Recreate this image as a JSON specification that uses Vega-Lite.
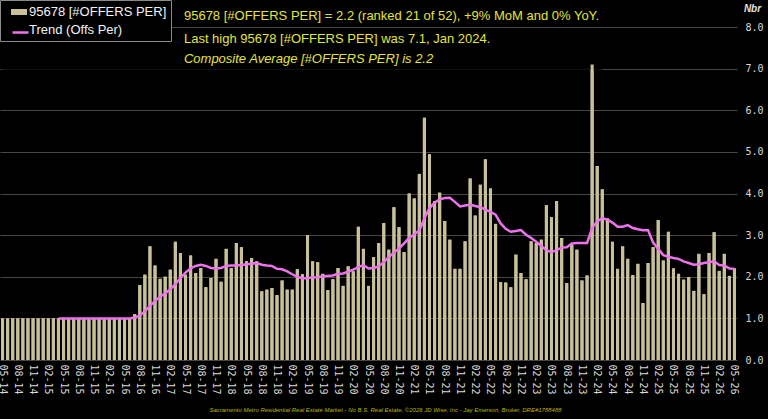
{
  "$schema": "https://vega.github.io/schema/vega-lite/v6.json",
  "width": 737,
  "height": 333,
  "autosize": {"type": "none"},
  "padding": {"left": 0, "top": 27, "right": 31, "bottom": 59},
  "background": "#000000",
  "config": {"view": {"stroke": null}, "font": "Liberation Sans"},
  "datasets": {
    "offers": [
      {"m": "05-14", "v": 1.0, "t": null}, {"m": "06-14", "v": 1.0, "t": null}, {"m": "07-14", "v": 1.0, "t": null},
      {"m": "08-14", "v": 1.0, "t": null}, {"m": "09-14", "v": 1.0, "t": null}, {"m": "10-14", "v": 1.0, "t": null},
      {"m": "11-14", "v": 1.0, "t": null}, {"m": "12-14", "v": 1.0, "t": null}, {"m": "01-15", "v": 1.0, "t": null},
      {"m": "02-15", "v": 1.0, "t": null}, {"m": "03-15", "v": 1.0, "t": null}, {"m": "04-15", "v": 1.0, "t": 1.0},
      {"m": "05-15", "v": 1.0, "t": 1.0}, {"m": "06-15", "v": 1.0, "t": 1.0}, {"m": "07-15", "v": 1.0, "t": 1.0},
      {"m": "08-15", "v": 1.0, "t": 1.0}, {"m": "09-15", "v": 1.0, "t": 1.0}, {"m": "10-15", "v": 1.0, "t": 1.0},
      {"m": "11-15", "v": 1.0, "t": 1.0}, {"m": "12-15", "v": 1.0, "t": 1.0}, {"m": "01-16", "v": 1.0, "t": 1.0},
      {"m": "02-16", "v": 1.0, "t": 1.0}, {"m": "03-16", "v": 1.0, "t": 1.0}, {"m": "04-16", "v": 1.0, "t": 1.0},
      {"m": "05-16", "v": 1.0, "t": 1.0}, {"m": "06-16", "v": 1.0, "t": 1.0}, {"m": "07-16", "v": 1.1, "t": 1.02},
      {"m": "08-16", "v": 1.8, "t": 1.07}, {"m": "09-16", "v": 2.05, "t": 1.17}, {"m": "10-16", "v": 2.73, "t": 1.3},
      {"m": "11-16", "v": 2.27, "t": 1.42}, {"m": "12-16", "v": 1.95, "t": 1.52}, {"m": "01-17", "v": 2.0, "t": 1.6},
      {"m": "02-17", "v": 2.17, "t": 1.7}, {"m": "03-17", "v": 2.84, "t": 1.82}, {"m": "04-17", "v": 2.57, "t": 1.97},
      {"m": "05-17", "v": 2.05, "t": 2.1}, {"m": "06-17", "v": 2.51, "t": 2.2}, {"m": "07-17", "v": 2.09, "t": 2.26},
      {"m": "08-17", "v": 2.21, "t": 2.29}, {"m": "09-17", "v": 1.75, "t": 2.26}, {"m": "10-17", "v": 1.97, "t": 2.21},
      {"m": "11-17", "v": 2.43, "t": 2.2}, {"m": "12-17", "v": 1.88, "t": 2.21}, {"m": "01-18", "v": 2.67, "t": 2.26},
      {"m": "02-18", "v": 2.21, "t": 2.27}, {"m": "03-18", "v": 2.81, "t": 2.27}, {"m": "04-18", "v": 2.71, "t": 2.28},
      {"m": "05-18", "v": 2.37, "t": 2.3}, {"m": "06-18", "v": 2.45, "t": 2.31}, {"m": "07-18", "v": 2.37, "t": 2.33},
      {"m": "08-18", "v": 1.65, "t": 2.29}, {"m": "09-18", "v": 1.69, "t": 2.27}, {"m": "10-18", "v": 1.73, "t": 2.26},
      {"m": "11-18", "v": 1.56, "t": 2.19}, {"m": "12-18", "v": 1.91, "t": 2.18}, {"m": "01-19", "v": 1.69, "t": 2.13},
      {"m": "02-19", "v": 1.69, "t": 2.06}, {"m": "03-19", "v": 2.18, "t": 2.0}, {"m": "04-19", "v": 2.06, "t": 1.96},
      {"m": "05-19", "v": 3.0, "t": 1.97}, {"m": "06-19", "v": 2.37, "t": 1.98}, {"m": "07-19", "v": 2.35, "t": 1.99},
      {"m": "08-19", "v": 2.07, "t": 2.01}, {"m": "09-19", "v": 1.68, "t": 2.02}, {"m": "10-19", "v": 1.94, "t": 2.03},
      {"m": "11-19", "v": 2.21, "t": 2.07}, {"m": "12-19", "v": 1.78, "t": 2.08}, {"m": "01-20", "v": 2.25, "t": 2.12},
      {"m": "02-20", "v": 2.13, "t": 2.17}, {"m": "03-20", "v": 3.2, "t": 2.23}, {"m": "04-20", "v": 2.67, "t": 2.28},
      {"m": "05-20", "v": 1.78, "t": 2.2}, {"m": "06-20", "v": 2.47, "t": 2.21}, {"m": "07-20", "v": 2.81, "t": 2.25},
      {"m": "08-20", "v": 3.29, "t": 2.35}, {"m": "09-20", "v": 2.65, "t": 2.47}, {"m": "10-20", "v": 3.67, "t": 2.58},
      {"m": "11-20", "v": 3.19, "t": 2.68}, {"m": "12-20", "v": 2.59, "t": 2.8}, {"m": "01-21", "v": 4.0, "t": 2.93},
      {"m": "02-21", "v": 3.88, "t": 3.02}, {"m": "03-21", "v": 4.47, "t": 3.11}, {"m": "04-21", "v": 5.82, "t": 3.4},
      {"m": "05-21", "v": 4.94, "t": 3.65}, {"m": "06-21", "v": 3.82, "t": 3.78}, {"m": "07-21", "v": 4.02, "t": 3.86},
      {"m": "08-21", "v": 3.34, "t": 3.89}, {"m": "09-21", "v": 2.89, "t": 3.9}, {"m": "10-21", "v": 2.19, "t": 3.8},
      {"m": "11-21", "v": 2.19, "t": 3.69}, {"m": "12-21", "v": 2.85, "t": 3.71}, {"m": "01-22", "v": 4.36, "t": 3.73},
      {"m": "02-22", "v": 3.47, "t": 3.7}, {"m": "03-22", "v": 4.21, "t": 3.67}, {"m": "04-22", "v": 4.82, "t": 3.61},
      {"m": "05-22", "v": 4.12, "t": 3.56}, {"m": "06-22", "v": 3.27, "t": 3.49}, {"m": "07-22", "v": 1.87, "t": 3.28},
      {"m": "08-22", "v": 1.86, "t": 3.15}, {"m": "09-22", "v": 1.75, "t": 3.08}, {"m": "10-22", "v": 2.53, "t": 3.1},
      {"m": "11-22", "v": 2.09, "t": 3.12}, {"m": "12-22", "v": 1.94, "t": 3.01}, {"m": "01-23", "v": 2.85, "t": 2.93},
      {"m": "02-23", "v": 2.81, "t": 2.84}, {"m": "03-23", "v": 2.89, "t": 2.74}, {"m": "04-23", "v": 3.72, "t": 2.64},
      {"m": "05-23", "v": 3.43, "t": 2.59}, {"m": "06-23", "v": 3.82, "t": 2.64}, {"m": "07-23", "v": 2.93, "t": 2.7},
      {"m": "08-23", "v": 1.85, "t": 2.71}, {"m": "09-23", "v": 2.77, "t": 2.8}, {"m": "10-23", "v": 2.65, "t": 2.81},
      {"m": "11-23", "v": 1.91, "t": 2.81}, {"m": "12-23", "v": 2.03, "t": 2.81}, {"m": "01-24", "v": 7.1, "t": 3.17},
      {"m": "02-24", "v": 4.66, "t": 3.33}, {"m": "03-24", "v": 4.1, "t": 3.41}, {"m": "04-24", "v": 3.4, "t": 3.37},
      {"m": "05-24", "v": 2.84, "t": 3.3}, {"m": "06-24", "v": 2.19, "t": 3.2}, {"m": "07-24", "v": 2.73, "t": 3.2},
      {"m": "08-24", "v": 2.43, "t": 3.24}, {"m": "09-24", "v": 2.04, "t": 3.17}, {"m": "10-24", "v": 2.31, "t": 3.14},
      {"m": "11-24", "v": 1.37, "t": 3.12}, {"m": "12-24", "v": 2.33, "t": 3.12}, {"m": "01-25", "v": 2.71, "t": 2.82},
      {"m": "02-25", "v": 3.36, "t": 2.67}, {"m": "03-25", "v": 2.39, "t": 2.52}, {"m": "04-25", "v": 3.08, "t": 2.48},
      {"m": "05-25", "v": 2.2, "t": 2.45}, {"m": "06-25", "v": 2.07, "t": 2.43}, {"m": "07-25", "v": 1.93, "t": 2.37},
      {"m": "08-25", "v": 1.99, "t": 2.33}, {"m": "09-25", "v": 1.66, "t": 2.29}, {"m": "10-25", "v": 2.55, "t": 2.3},
      {"m": "11-25", "v": 1.58, "t": 2.33}, {"m": "12-25", "v": 2.57, "t": 2.35}, {"m": "01-26", "v": 3.07, "t": 2.37},
      {"m": "02-26", "v": 2.14, "t": 2.28}, {"m": "03-26", "v": 2.55, "t": 2.27}, {"m": "04-26", "v": 2.02, "t": 2.2},
      {"m": "05-26", "v": 2.2, "t": 2.19}
    ]
  },
  "layer": [
    {
      "data": {"name": "offers"},
      "mark": {"type": "bar"},
      "encoding": {
        "x": {
          "field": "m",
          "type": "ordinal",
          "scale": {
            "domain": ["05-14","06-14","07-14","08-14","09-14","10-14","11-14","12-14",
              "01-15","02-15","03-15","04-15","05-15","06-15","07-15","08-15","09-15","10-15","11-15","12-15",
              "01-16","02-16","03-16","04-16","05-16","06-16","07-16","08-16","09-16","10-16","11-16","12-16",
              "01-17","02-17","03-17","04-17","05-17","06-17","07-17","08-17","09-17","10-17","11-17","12-17",
              "01-18","02-18","03-18","04-18","05-18","06-18","07-18","08-18","09-18","10-18","11-18","12-18",
              "01-19","02-19","03-19","04-19","05-19","06-19","07-19","08-19","09-19","10-19","11-19","12-19",
              "01-20","02-20","03-20","04-20","05-20","06-20","07-20","08-20","09-20","10-20","11-20","12-20",
              "01-21","02-21","03-21","04-21","05-21","06-21","07-21","08-21","09-21","10-21","11-21","12-21",
              "01-22","02-22","03-22","04-22","05-22","06-22","07-22","08-22","09-22","10-22","11-22","12-22",
              "01-23","02-23","03-23","04-23","05-23","06-23","07-23","08-23","09-23","10-23","11-23","12-23",
              "01-24","02-24","03-24","04-24","05-24","06-24","07-24","08-24","09-24","10-24","11-24","12-24",
              "01-25","02-25","03-25","04-25","05-25","06-25","07-25","08-25","09-25","10-25","11-25","12-25",
              "01-26","02-26","03-26","04-26","05-26"],
            "paddingInner": 0.4,
            "paddingOuter": 0.2
          },
          "axis": {
            "values": ["05-14","08-14","11-14","02-15","05-15","08-15","11-15","02-16","05-16","08-16","11-16",
              "02-17","05-17","08-17","11-17","02-18","05-18","08-18","11-18","02-19","05-19","08-19","11-19",
              "02-20","05-20","08-20","11-20","02-21","05-21","08-21","11-21","02-22","05-22","08-22","11-22",
              "02-23","05-23","08-23","11-23","02-24","05-24","08-24","11-24","02-25","05-25","08-25","11-25",
              "02-26","05-26"],
            "labelAngle": 90,
            "labelFont": "DejaVu Sans Mono",
            "labelFontSize": 10,
            "labelColor": "#d8d8d8",
            "labelPadding": 4,
            "labelOverlap": false,
            "ticks": false,
            "domain": false,
            "grid": false,
            "title": "Sacramento Metro Residential Real Estate Market - No B.S. Real Estate, ©2026 JD Wise, Inc - Jay Emerson, Broker, DRE#1788488",
            "titleFont": "Liberation Sans",
            "titleFontSize": 6,
            "titleFontStyle": "italic",
            "titleFontWeight": "normal",
            "titleColor": "#b8b800",
            "titleX": 385,
            "titleY": 49,
            "titleBaseline": "middle"
          }
        },
        "y": {
          "field": "v",
          "type": "quantitative",
          "scale": {"domain": [0, 8], "nice": false},
          "axis": {
            "orient": "right",
            "values": [0, 1, 2, 3, 4, 5, 6, 7, 8],
            "format": ".1f",
            "grid": true,
            "gridColor": "#474747",
            "gridWidth": 1,
            "domain": false,
            "ticks": false,
            "labelFont": "DejaVu Sans Mono",
            "labelFontSize": 10,
            "labelColor": "#d8d8d8",
            "labelPadding": 8,
            "title": "Nbr",
            "titleAngle": 0,
            "titleX": 15,
            "titleY": -19,
            "titleAlign": "center",
            "titleBaseline": "middle",
            "titleFont": "Liberation Sans",
            "titleFontSize": 10,
            "titleFontStyle": "italic",
            "titleFontWeight": "bold",
            "titleColor": "#e0e0e0"
          }
        },
        "fill": {
          "datum": "95678 [#OFFERS PER]",
          "type": "nominal",
          "scale": {"domain": ["95678 [#OFFERS PER]", "Trend (Offs Per)"], "range": ["#c8c098", "#000000"]},
          "legend": {
            "title": null,
            "orient": "none",
            "legendX": 0,
            "legendY": -27,
            "padding": 4,
            "symbolOffset": 7,
            "labelOffset": 2,
            "rowPadding": 3,
            "strokeColor": "#8a8a8a",
            "fillColor": "#000000",
            "labelColor": "#f2f2f2",
            "labelFont": "Liberation Sans",
            "labelFontSize": 13,
            "labelLimit": 200,
            "symbolType": "M-1,-0.375H1V0.375H-1Z",
            "symbolSize": 256,
            "symbolStrokeWidth": 0
          }
        }
      }
    },
    {
      "description": "black panel behind the headline text, hiding the upper gridline there",
      "data": {"values": [{}]},
      "mark": {"type": "rect", "color": "#000000"},
      "encoding": {
        "x": {"datum": "05-14", "type": "ordinal"},
        "x2": {"datum": "03-24"},
        "y": {"datum": 6.97, "type": "quantitative"},
        "y2": {"datum": 7.97}
      }
    },
    {
      "data": {"name": "offers"},
      "mark": {"type": "bar"},
      "encoding": {
        "x": {"field": "m", "type": "ordinal"},
        "y": {"field": "v", "type": "quantitative"},
        "color": {"value": "#c8c098"}
      }
    },
    {
      "data": {"name": "offers"},
      "mark": {"type": "line", "strokeWidth": 2.5},
      "encoding": {
        "x": {"field": "m", "type": "ordinal"},
        "y": {"field": "t", "type": "quantitative"},
        "stroke": {
          "datum": "Trend (Offs Per)",
          "type": "nominal",
          "scale": {"domain": ["Trend (Offs Per)"], "range": ["#ee72ee"]},
          "legend": {
            "title": null,
            "orient": "none",
            "legendX": 0,
            "legendY": -8,
            "padding": 4,
            "symbolOffset": 7,
            "labelOffset": 2,
            "labelExpr": "''",
            "symbolType": "stroke",
            "symbolSize": 256,
            "symbolStrokeWidth": 2.5
          }
        }
      }
    },
    {
      "data": {"values": [{}]},
      "mark": {"type": "text", "align": "left", "baseline": "alphabetic", "dx": 3.5, "fontSize": 13, "font": "Liberation Sans", "color": "#e4e43a"},
      "encoding": {
        "x": {"datum": "04-17", "type": "ordinal"},
        "y": {"datum": 8.18, "type": "quantitative"},
        "text": {"value": "95678 [#OFFERS PER] = 2.2 (ranked 21 of 52), +9% MoM and 0% YoY."}
      }
    },
    {
      "data": {"values": [{}]},
      "mark": {"type": "text", "align": "left", "baseline": "alphabetic", "dx": 3.5, "fontSize": 13, "font": "Liberation Sans", "color": "#e4e43a"},
      "encoding": {
        "x": {"datum": "04-17", "type": "ordinal"},
        "y": {"datum": 7.61, "type": "quantitative"},
        "text": {"value": "Last high 95678 [#OFFERS PER] was 7.1, Jan 2024."}
      }
    },
    {
      "data": {"values": [{}]},
      "mark": {"type": "text", "align": "left", "baseline": "alphabetic", "dx": 3.5, "fontSize": 13, "font": "Liberation Sans", "fontStyle": "italic", "color": "#e4e43a"},
      "encoding": {
        "x": {"datum": "04-17", "type": "ordinal"},
        "y": {"datum": 7.14, "type": "quantitative"},
        "text": {"value": "Composite Average [#OFFERS PER] is 2.2"}
      }
    }
  ]
}
